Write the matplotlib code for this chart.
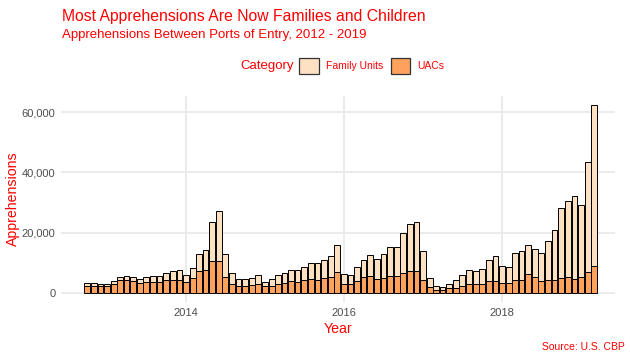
import pandas as pd
import matplotlib
matplotlib.use("Agg")
import matplotlib.pyplot as plt
import matplotlib.dates as mdates
from matplotlib.patches import Patch
from matplotlib.ticker import FuncFormatter

plt.rcParams['font.family'] = ['Liberation Sans', 'DejaVu Sans']

# monthly apprehensions, Oct 2012 - Mar 2019
months = pd.date_range('2012-10-01', periods=78, freq='MS')
uacs = [2300, 2200, 2200, 2100, 2900, 4100, 4100, 3900, 3200, 3400, 3400, 3400,
        4100, 4300, 4300, 3700, 4800, 7200, 7700, 10600, 10600, 5300, 3000, 2300,
        2300, 2600, 2800, 2100, 2300, 2900, 3100, 3800, 3700, 4100, 4400, 4300,
        4800, 5300, 6800, 2900, 2900, 4000, 5100, 5400, 4700, 4900, 5600, 5600,
        6700, 7200, 7200, 4200, 1900, 1000, 1000, 1400, 1700, 2300, 2900, 2900,
        3000, 3900, 3900, 3100, 3100, 4100, 4200, 6200, 5100, 3900, 4200, 4200,
        4800, 5200, 4700, 5100, 6900, 8800]
family_units = [900, 1000, 700, 800, 900, 1200, 1500, 1300, 1400, 1800, 2200, 2000,
                2600, 2800, 3400, 2300, 3300, 5800, 6500, 12800, 16400, 7700, 3600, 2400,
                2300, 2300, 3000, 1500, 2100, 3000, 3300, 3900, 4000, 4500, 5400, 5500,
                6200, 6800, 9000, 3300, 3100, 4600, 5700, 7000, 6600, 7800, 9600, 9700,
                13200, 15800, 16200, 9600, 3100, 1100, 900, 1600, 2400, 3500, 4600, 4200,
                5000, 7000, 8200, 5700, 5300, 9000, 9700, 9700, 9300, 9300, 12900, 16800,
                23400, 25200, 27600, 24200, 36400, 53500]

red = '#FF0000'
c_fam = '#FEE0C3'
c_uac = '#FCA25D'

fig = plt.figure(figsize=(6.3, 3.6), dpi=100)
ax = fig.add_axes([61/630, 1-302/360, (615-61)/630, (302-96)/360])

ax.bar(months, uacs, width=26, color=c_uac, edgecolor='black', linewidth=0.7, zorder=3)
ax.bar(months, family_units, width=26, bottom=uacs, color=c_fam, edgecolor='black',
       linewidth=0.7, zorder=3)

ax.set_xlim(pd.Timestamp('2012-06-02'), pd.Timestamp('2019-06-07'))
ax.set_ylim(-3100, 65400)
ax.set_yticks([0, 20000, 40000, 60000])
ax.yaxis.set_major_formatter(FuncFormatter(lambda v, p: f'{int(v):,}'))
ax.xaxis.set_major_locator(mdates.YearLocator(2))
ax.xaxis.set_major_formatter(mdates.DateFormatter('%Y'))

for s in ax.spines.values():
    s.set_visible(False)
ax.grid(True, color='#EBEBEB', linewidth=1.4, zorder=0)
ax.set_axisbelow(True)
ax.tick_params(length=0, labelsize=8, labelcolor='#4D4D4D', pad=4)

ax.set_ylabel('Apprehensions', color=red, fontsize=10.2, labelpad=1)
ax.set_xlabel('Year', color=red, fontsize=10.2, labelpad=3)

fig.text(62/630, 1-21/360, 'Most Apprehensions Are Now Families and Children',
         color=red, fontsize=11.3, va='baseline')
fig.text(62/630, 1-38/360, 'Apprehensions Between Ports of Entry, 2012 - 2019',
         color=red, fontsize=9.5, va='baseline')
fig.text(625/630, 1-347/360, 'Source: U.S. CBP', color=red, fontsize=7.5,
         ha='right', va='center')

fig.text(240/630, 1-66/360, 'Category', color=red, fontsize=9.5, va='center')
handles = [Patch(facecolor=c_fam, edgecolor='#333333', linewidth=0.9, label='Family Units'),
           Patch(facecolor=c_uac, edgecolor='#333333', linewidth=0.9, label='UACs')]
leg = fig.legend(handles=handles, loc='center left', bbox_to_anchor=(299/630, 1-66/360),
                 ncol=2, frameon=False, fontsize=7.5, handlelength=1.9, handleheight=1.9,
                 handletextpad=0.7, columnspacing=0.7, borderpad=0, borderaxespad=0)
for t in leg.get_texts():
    t.set_color(red)

fig.savefig('out.png', dpi=100)
